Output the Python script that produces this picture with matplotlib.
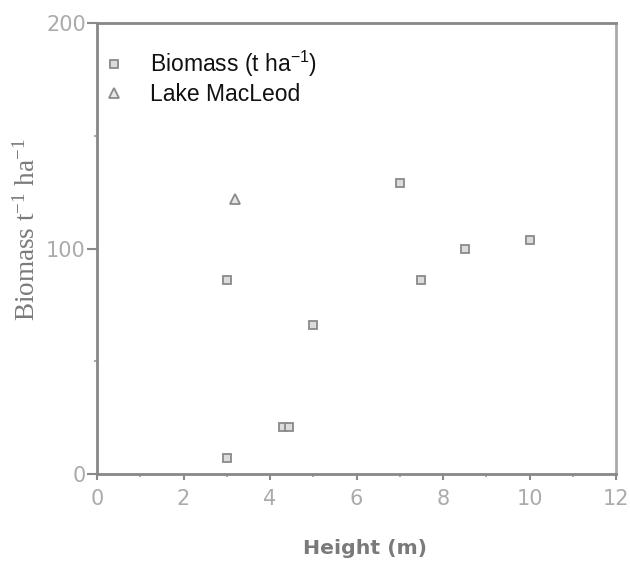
import matplotlib
matplotlib.use("Agg")
import matplotlib.pyplot as plt
from matplotlib.ticker import MultipleLocator

plt.rcParams['mathtext.default'] = 'regular'

# Data
height_m = [3.0, 3.0, 4.3, 4.45, 5.0, 7.0, 7.5, 8.5, 10.0]
biomass_t_ha = [7, 86, 21, 21, 66, 129, 86, 100, 104]
macleod_height = [3.2]
macleod_biomass = [122]

x_ticks = [0, 2, 4, 6, 8, 10, 12]
y_ticks = [0, 100, 200]

W, H = 630, 565
fig = plt.figure(figsize=(W / 100, H / 100), dpi=100)
left, right, top, bottom = 97, 616, 23.3, 474
ax = fig.add_axes([left / W, 1 - bottom / H, (right - left) / W, (bottom - top) / H])

sq = ax.plot(height_m, biomass_t_ha, ls='none', marker='s', ms=5.3,
             mfc='#dcdcdc', mec='#8a8a8a', mew=1.3, label='Biomass (t ha$^{-1}$)')[0]
tr = ax.plot(macleod_height, macleod_biomass, ls='none', marker='^', ms=6.5,
             mfc='#e6e6e6', mec='#8a8a8a', mew=1.3, label='Lake MacLeod')[0]

ax.set_xlim(0, 12)
ax.set_ylim(0, 200)
ax.set_xticks(x_ticks)
ax.set_yticks(y_ticks)
ax.xaxis.set_minor_locator(MultipleLocator(1))
ax.yaxis.set_minor_locator(MultipleLocator(50))

tick_font = dict(family='DejaVu Sans', size=15, color='#ababab')
ax.set_xticklabels([str(t) for t in x_ticks], **tick_font)
ax.set_yticklabels([str(t) for t in y_ticks], **tick_font)

ax.tick_params(axis='x', which='major', direction='out', length=4, width=1.5,
               color='#8a8a8a', pad=7)
ax.tick_params(axis='x', which='minor', direction='out', length=2.5, width=1.2,
               color='#9a9a9a')
ax.tick_params(axis='y', which='major', direction='out', length=7, width=1.5,
               color='#8a8a8a', pad=1)
ax.tick_params(axis='y', which='minor', direction='out', length=2.5, width=1.2,
               color='#9a9a9a')

for s in ['left', 'bottom', 'top']:
    ax.spines[s].set_color('#888888')
    ax.spines[s].set_linewidth(2)
ax.spines['right'].set_color('#aaaaaa')
ax.spines['right'].set_linewidth(2)

ax.set_xlabel('Height (m)', family='DejaVu Sans', size=14.7, weight='bold',
              color='#7a7a7a')
ax.xaxis.set_label_coords((365 - left) / (right - left), -(539 - bottom) / (bottom - top))

ax.set_ylabel('Biomass t$^{-1}$ ha$^{-1}$', family='Liberation Serif', size=19.5,
              color='#7a7a7a')
ax.yaxis.set_label_coords(-(97 - 40.5) / (right - left), (bottom - 230) / (bottom - top))

fs = 16.5
leg = ax.legend(handles=[sq, tr], loc='upper left', frameon=False,
                bbox_to_anchor=(103 / W, 1 - 49 / H),
                bbox_transform=fig.transFigure, borderpad=0, borderaxespad=0,
                handlelength=1.0, handletextpad=1.03, labelspacing=0.17,
                prop=dict(family='Liberation Sans', size=fs))
for t in leg.get_texts():
    t.set_color('#111111')

fig.savefig('out.png', dpi=100)
